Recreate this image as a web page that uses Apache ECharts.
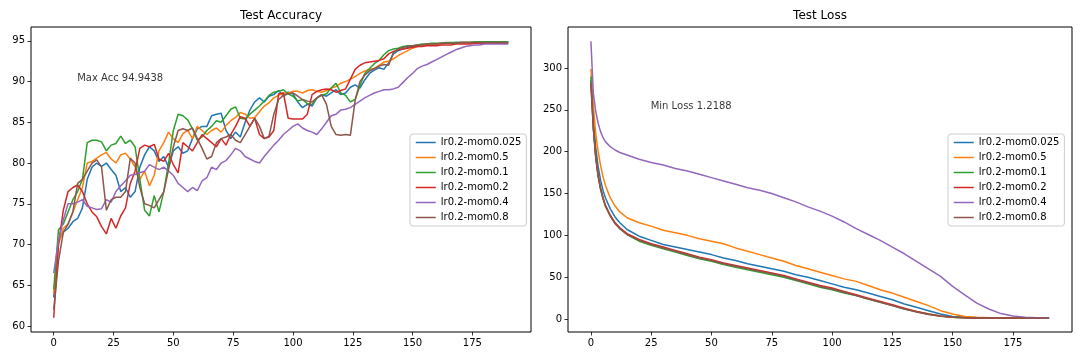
<!DOCTYPE html>
<html lang="en">
<head>
    <meta charset="UTF-8">
    <title>Test Accuracy / Test Loss</title>
    <style>
        html, body { margin: 0; padding: 0; background: #fff; }
    </style>
</head>
<body>
<div id="main" style="width: 1080px;height:360px;"></div>
<script src="https://cdn.jsdelivr.net/npm/echarts@6/dist/echarts.min.js"></script>
<script>
    var names = ['lr0.2-mom0.025', 'lr0.2-mom0.5', 'lr0.2-mom0.1', 'lr0.2-mom0.2', 'lr0.2-mom0.4', 'lr0.2-mom0.8'];
    var colors = ['#1f77b4', '#ff7f0e', '#2ca02c', '#d62728', '#9467bd', '#8c564b'];

    // accuracy, read every 2 epochs (0..190)
    var accEpochs = [];
    for (var e = 0; e <= 190; e += 2) accEpochs.push(e);

    var accMom0025 = [
        63.5, 70.5, 71.5, 72, 72.8, 73.2, 74.5, 78, 79.5, 80,
        79.6, 80, 79.2, 78.5, 76.5, 77, 75.8, 76.5, 79.5, 81,
        82, 81.5, 80.2, 80.8, 79.5, 81.5, 82, 81.2, 81.5, 83,
        84.2, 84.5, 84.5, 85.8, 86, 86.1, 84, 83, 83.8, 83.2,
        85, 86.5, 87.5, 88, 87.5, 88.2, 88.4, 88.9, 88.2, 88.7,
        88.5, 87.5, 86.8, 87.2, 87, 88, 88.4, 88.2, 88.6, 89,
        88.4, 88.6, 89.3, 89.6, 89.2, 90.2, 91, 91.4, 91.7, 91.5,
        92.3, 93.4, 93.8, 94, 94.2, 94.3, 94.4, 94.5, 94.5, 94.6,
        94.6, 94.7, 94.7, 94.7, 94.8, 94.8, 94.8, 94.8, 94.8, 94.9,
        94.9, 94.9, 94.9, 94.9, 94.9, 94.9
    ];
    var accMom05 = [
        64, 70, 72, 72.5, 74, 75.5, 77, 80, 80.2, 80.6,
        81, 81.3, 80.5, 80, 81, 81.2, 80.5, 79.5, 78, 79,
        77.2, 78.5, 81.5, 82.5, 83.8, 83, 82.5, 83.6, 84, 83,
        84.5, 84, 83.5, 84, 84.3, 83.8, 84.6, 85.2, 85.6, 86.2,
        86, 85.5, 85.6, 86.3, 87, 87.4, 88, 88.3, 88.6, 88.6,
        88.8, 88.8, 88.6, 88.9, 89, 88.8, 88.7, 88.9, 89.2, 89.4,
        89.8, 90, 90.3, 90.6, 91, 91.3, 91.5, 91.6, 92, 92.4,
        92.5, 92.8, 93.2, 93.5, 93.8, 94.1, 94.3, 94.4, 94.5, 94.6,
        94.6, 94.6, 94.7, 94.7, 94.7, 94.8, 94.8, 94.8, 94.8, 94.8,
        94.8, 94.8, 94.8, 94.8, 94.8, 94.8
    ];
    var accMom01 = [
        64.5, 71.8, 72.5, 74, 75.5, 76.5, 78, 82.5, 82.8, 82.8,
        82.6, 81.5, 82.2, 82.4, 83.3, 82.4, 82.8, 82, 78, 74.2,
        73.5, 76, 74, 76.5, 80, 84, 86, 85.8, 85.3, 84.2,
        82.8, 83.2, 84, 84.5, 85.2, 85, 85.8, 86.6, 86.9, 85.5,
        85.4, 86, 86.5, 87, 87.6, 88.3, 88.7, 88.8, 89, 88.5,
        88.2, 87.6, 87.8, 87.3, 87.2, 88, 88.3, 88.5, 89.2, 89.8,
        88.6, 88.3, 87.5, 87.8, 89.5, 91, 91.6, 92.2, 92.6, 93.3,
        93.8, 94, 94.1, 94.3, 94.4, 94.4, 94.5, 94.6, 94.6, 94.7,
        94.7, 94.7, 94.8, 94.8, 94.8, 94.8, 94.8, 94.8, 94.9, 94.9,
        94.9, 94.9, 94.9, 94.9, 94.9, 94.9
    ];
    var accMom02 = [
        61, 70, 74.2, 76.5, 77, 77.3, 76.5, 75, 74, 73.4,
        72.2, 71.3, 73.2, 72, 73.5, 74.5, 77.5, 79, 81.8, 82.2,
        82, 82.3, 80.5, 80.2, 81.2, 79.8, 78.8, 82.5, 82, 81.5,
        82.5, 83.5, 83, 82.5, 82, 83, 82.2, 83.5, 84.5, 85.7,
        85.5, 84.5, 85.5, 83.5, 83, 83.2, 84, 88.5, 88.6, 85.5,
        85.4, 85.4, 85.4, 86, 88.4, 88.8, 89, 89.1, 89, 88.7,
        88.9, 89.1, 90.3, 91.5, 92, 92.3, 92.4, 92.5, 92.6, 92.8,
        93.4, 93.7, 93.9, 94, 94.1, 94.2, 94.3, 94.3, 94.4, 94.4,
        94.4, 94.5, 94.5, 94.5, 94.6, 94.6, 94.6, 94.6, 94.7, 94.7,
        94.7, 94.7, 94.7, 94.7, 94.7, 94.7
    ];
    var accMom04 = [
        66.5, 70.5, 73, 75, 75, 75.2, 75.5, 74.7, 74.5, 74.3,
        74.4, 75.5, 75.2, 76.5, 77.2, 77.8, 78.5, 78.6, 78.8, 79,
        79.8, 79.5, 79.2, 79.5, 79, 78.5, 77.5, 77, 76.5, 77,
        76.6, 77.8, 78.2, 79.5, 79.2, 80, 80.3, 81, 81.8, 81.5,
        80.8, 80.5, 80.2, 80, 80.8, 81.5, 82.2, 82.8, 83.5, 84,
        84.5, 84.8, 84.3, 84, 83.8, 83.5, 84.2, 85, 85.8, 86,
        86.5, 86.6, 86.8, 87.2, 87.6, 88, 88.3, 88.6, 88.8, 89,
        89, 89.1, 89.3, 89.9, 90.5, 91, 91.6, 91.9, 92.1, 92.4,
        92.7, 93, 93.3, 93.6, 93.9, 94.1, 94.3, 94.4, 94.5, 94.5,
        94.6, 94.6, 94.6, 94.6, 94.6, 94.6
    ];
    var accMom08 = [
        62, 68, 71.5, 72.5, 74, 77.5, 78, 79, 80, 80.4,
        79.5, 74.2, 75.5, 75.8, 75.8, 76.5, 80.6, 80, 77, 75,
        74.8, 74.5, 75.5, 76.5, 79.2, 82, 84, 84.2, 84, 84.3,
        83, 81.8, 80.5, 80.8, 82.5, 83, 83.2, 83.5, 82.8, 82.5,
        83.5, 84.5, 85.5, 84.5, 83, 83.3, 86, 87.8, 88.3, 88.5,
        88.6, 88.2, 87.8, 87.6, 87.5, 88, 88.4, 87.2, 84.5, 83.5,
        83.4, 83.5, 83.4, 87.7, 90, 90.8, 91.3, 91.6, 91.9, 92.1,
        92, 93.6, 94, 94.2, 94.3, 94.4, 94.5, 94.5, 94.6, 94.6,
        94.6, 94.7, 94.7, 94.7, 94.7, 94.8, 94.8, 94.8, 94.8, 94.8,
        94.8, 94.8, 94.8, 94.8, 94.8, 94.8
    ];

    // loss, read at these epochs
    var lossEpochs = [0, 1, 2, 3, 4, 5, 6, 8, 10, 12, 15, 20,
        25, 30, 35, 40, 45, 50, 55, 60, 65, 70,
        75, 80, 85, 90, 95, 100, 105, 110, 115, 120,
        125, 130, 135, 140, 145, 150, 155, 160, 165, 170,
        175, 180, 185, 190];
    var lossMom0025 = [286, 240, 205, 182, 166, 154, 145, 132, 122, 115, 107, 99,
        94, 89, 86, 83, 80, 77, 73, 70, 66, 63,
        60, 57, 53, 50, 46, 42, 38, 35, 31, 27,
        23, 18, 14, 10, 6, 3, 2, 1.5, 1.3, 1.3,
        1.2, 1.2, 1.2, 1.2];
    var lossMom05 = [299, 255, 222, 200, 184, 170, 160, 145, 135, 128, 121, 115,
        111, 106, 103, 100, 96, 93, 90, 85, 81, 77,
        73, 69, 64, 60, 56, 52, 48, 45, 40, 35,
        31, 26, 21, 16, 10, 6, 3, 2, 1.5, 1.4,
        1.3, 1.3, 1.3, 1.3];
    var lossMom01 = [290, 230, 195, 172, 157, 145, 136, 124, 115, 108, 101, 93,
        88, 84, 80, 76, 72, 69, 65, 62, 59, 56,
        53, 50, 46, 42, 38, 35, 31, 28, 24, 20,
        16, 12, 9, 6, 3.5, 2, 1.5, 1.3, 1.2, 1.2,
        1.2, 1.2, 1.2, 1.2];
    var lossMom02 = [280, 228, 194, 171, 156, 145, 136, 124, 115, 109, 102, 95,
        90, 86, 82, 78, 74, 71, 67, 64, 61, 58,
        55, 52, 48, 44, 40, 37, 33, 29, 25, 21,
        17, 13, 9, 6, 3.5, 2, 1.5, 1.3, 1.2, 1.2,
        1.2, 1.2, 1.2, 1.2];
    var lossMom04 = [332, 270, 248, 234, 224, 217, 212, 206, 202, 199, 196, 191,
        187, 184, 180, 177, 173, 169, 165, 161, 157, 154,
        150, 145, 140, 134, 129, 123, 116, 108, 101, 94,
        86, 78, 69, 60, 51, 39, 29, 19, 12, 6.5,
        3.5, 2.2, 1.6, 1.4];
    var lossMom08 = [283, 228, 193, 170, 155, 144, 135, 123, 114, 108, 101, 94,
        89, 85, 81, 77, 73, 70, 66, 63, 60, 57,
        54, 51, 47, 43, 39, 36, 32, 28, 24, 20,
        16, 12, 8.5, 5.5, 3.2, 2, 1.5, 1.3, 1.2, 1.2,
        1.2, 1.2, 1.2, 1.2];

    var xTicks = [0, 25, 50, 75, 100, 125, 150, 175];
    var accTicks = [60, 65, 70, 75, 80, 85, 90, 95];
    var lossTicks = [0, 50, 100, 150, 200, 250, 300];

    var accData = [accMom0025, accMom05, accMom01, accMom02, accMom04, accMom08];
    var lossData = [lossMom0025, lossMom05, lossMom01, lossMom02, lossMom04, lossMom08];

    function pairs(xs, ys) {
        var out = [];
        for (var i = 0; i < ys.length; i++) out.push([xs[i], ys[i]]);
        return out;
    }

    var font = 'DejaVu Sans';

    function xAxisFor(gi) {
        return {
            type: 'value', gridIndex: gi, min: -9.5, max: 199.5, position: 'bottom',
            axisLine: {show: false, onZero: false},
            splitLine: {show: false},
            axisTick: {show: true, inside: false, length: 3.5, customValues: xTicks,
                lineStyle: {color: '#000', width: 0.8}},
            axisLabel: {color: '#000', fontSize: 10, fontFamily: font, margin: 6, customValues: xTicks}
        };
    }
    function yAxisFor(gi, mn, mx, ticks) {
        return {
            type: 'value', gridIndex: gi, min: mn, max: mx, position: 'left',
            axisLine: {show: false, onZero: false},
            splitLine: {show: false},
            axisTick: {show: true, inside: false, length: 3.5, customValues: ticks,
                lineStyle: {color: '#000', width: 0.8}},
            axisLabel: {color: '#000', fontSize: 10, fontFamily: font, margin: 6, customValues: ticks}
        };
    }

    var series = [];
    for (var i = 0; i < names.length; i++) {
        series.push({
            name: names[i], type: 'line', xAxisIndex: 0, yAxisIndex: 0,
            data: pairs(accEpochs, accData[i]),
            symbol: 'none', showSymbol: false, clip: true,
            color: colors[i],
            lineStyle: {width: 1.5, color: colors[i]}
        });
    }
    for (var j = 0; j < names.length; j++) {
        series.push({
            name: names[j], type: 'line', xAxisIndex: 1, yAxisIndex: 1,
            data: pairs(lossEpochs, lossData[j]),
            symbol: 'none', showSymbol: false, clip: true,
            color: colors[j],
            lineStyle: {width: 1.5, color: colors[j]}
        });
    }
    function note(gi, x, y, text) {
        return {
            name: 'note' + gi, type: 'scatter', xAxisIndex: gi, yAxisIndex: gi,
            data: [[x, y]], symbolSize: 1, silent: true,
            itemStyle: {color: 'rgba(0,0,0,0)'},
            label: {show: true, formatter: text, position: [0, 2], align: 'left', verticalAlign: 'bottom',
                color: '#000', fontSize: 10, fontFamily: font}
        };
    }
    series.push(note(0, 10, 90, 'Max Acc 94.9438'));
    series.push(note(1, 25, 250, 'Min Loss 1.2188'));

    function legendAt(left) {
        return {
            data: names, orient: 'vertical', left: left, top: 134,
            itemWidth: 20, itemHeight: 10, itemGap: 5,
            padding: [3.5, 5, 3.5, 5],
            backgroundColor: 'rgba(255,255,255,0.8)',
            borderColor: '#ccc', borderWidth: 1, borderRadius: 3,
            selectedMode: false,
            itemStyle: {opacity: 0},
            lineStyle: {width: 1.5},
            textStyle: {color: '#000', fontSize: 10, fontFamily: font}
        };
    }

    var myChart = echarts.init(document.getElementById('main'));
    var option = {
        backgroundColor: '#fff',
        animation: false,
        textStyle: {fontFamily: font},
        title: [
            {text: 'Test Accuracy', left: 281, top: 10, textAlign: 'center', padding: 0,
                textStyle: {fontSize: 12, fontWeight: 'normal', color: '#000', fontFamily: font}},
            {text: 'Test Loss', left: 820, top: 10, textAlign: 'center', padding: 0,
                textStyle: {fontSize: 12, fontWeight: 'normal', color: '#000', fontFamily: font}}
        ],
        legend: [legendAt(410), legendAt(948)],
        grid: [
            {left: 31, top: 27, width: 500, height: 305, show: true, borderColor: '#000', borderWidth: 1, backgroundColor: 'transparent'},
            {left: 568, top: 27, width: 504, height: 305, show: true, borderColor: '#000', borderWidth: 1, backgroundColor: 'transparent'}
        ],
        xAxis: [xAxisFor(0), xAxisFor(1)],
        yAxis: [yAxisFor(0, 59.26, 96.7, accTicks), yAxisFor(1, -15.5, 349, lossTicks)],
        series: series
    };
    myChart.setOption(option);
</script>
</body>
</html>
